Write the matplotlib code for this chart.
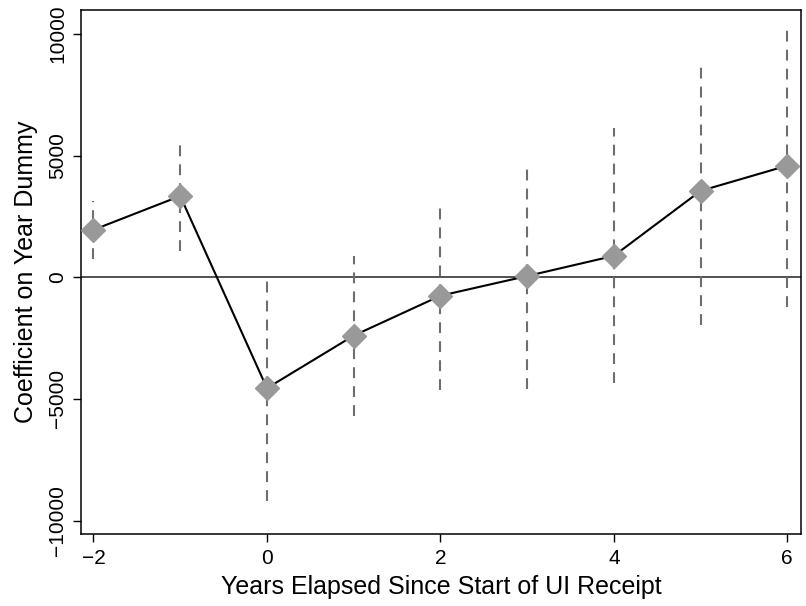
import matplotlib
matplotlib.use("Agg")
import matplotlib.pyplot as plt

plt.rcParams['font.family'] = ['Liberation Sans', 'DejaVu Sans']

years = [-2, -1, 0, 1, 2, 3, 4, 5, 6]
coef = [1950, 3340, -4560, -2400, -760, 50, 880, 3550, 4590]
ci_low = [750, 1090, -9200, -5700, -4630, -4600, -4360, -1960, -1230]
ci_high = [3140, 5550, 60, 890, 3010, 4650, 6130, 8840, 10380]
xticks = [-2, 0, 2, 4, 6]
yticks = [-10000, -5000, 0, 5000, 10000]

fig = plt.figure(figsize=(8.06, 6.06), dpi=100)
ax = fig.add_axes([0.1005, 0.1188, 0.8933, 0.8647])

ax.axhline(0, color='#333333', lw=1.2, zorder=1)
ax.vlines(years, ci_low, ci_high, colors='#6e6e6e', linestyles=(0, (5.2, 3.9)), lw=1.5, zorder=2)
ax.plot(years, coef, color='black', lw=1.5, zorder=3)
ax.plot(years, coef, ls='none', marker='D', ms=12, color='#999999', mec='#999999', zorder=4)

ax.set_xlim(-2.144, 6.158)
ax.set_ylim(-10555, 10987)
ax.set_xticks(xticks)
ax.set_xticklabels(['\u22122', '0', '2', '4', '6'])
ax.set_yticks(yticks)
ax.set_yticklabels(['\u221210000', '\u22125000', '0', '5000', '10000'], rotation=90, va='center')
ax.tick_params(direction='out', length=6, width=1, labelsize=15, colors='black')
ax.tick_params(axis='x', pad=5)
ax.tick_params(axis='y', pad=4)
for s in ax.spines.values():
    s.set_linewidth(1.1)

ax.set_xlabel('Years Elapsed Since Start of UI Receipt', fontsize=18, labelpad=5)
ax.set_ylabel('Coefficient on Year Dummy', fontsize=18, labelpad=7)

fig.savefig('out.png', dpi=100)
